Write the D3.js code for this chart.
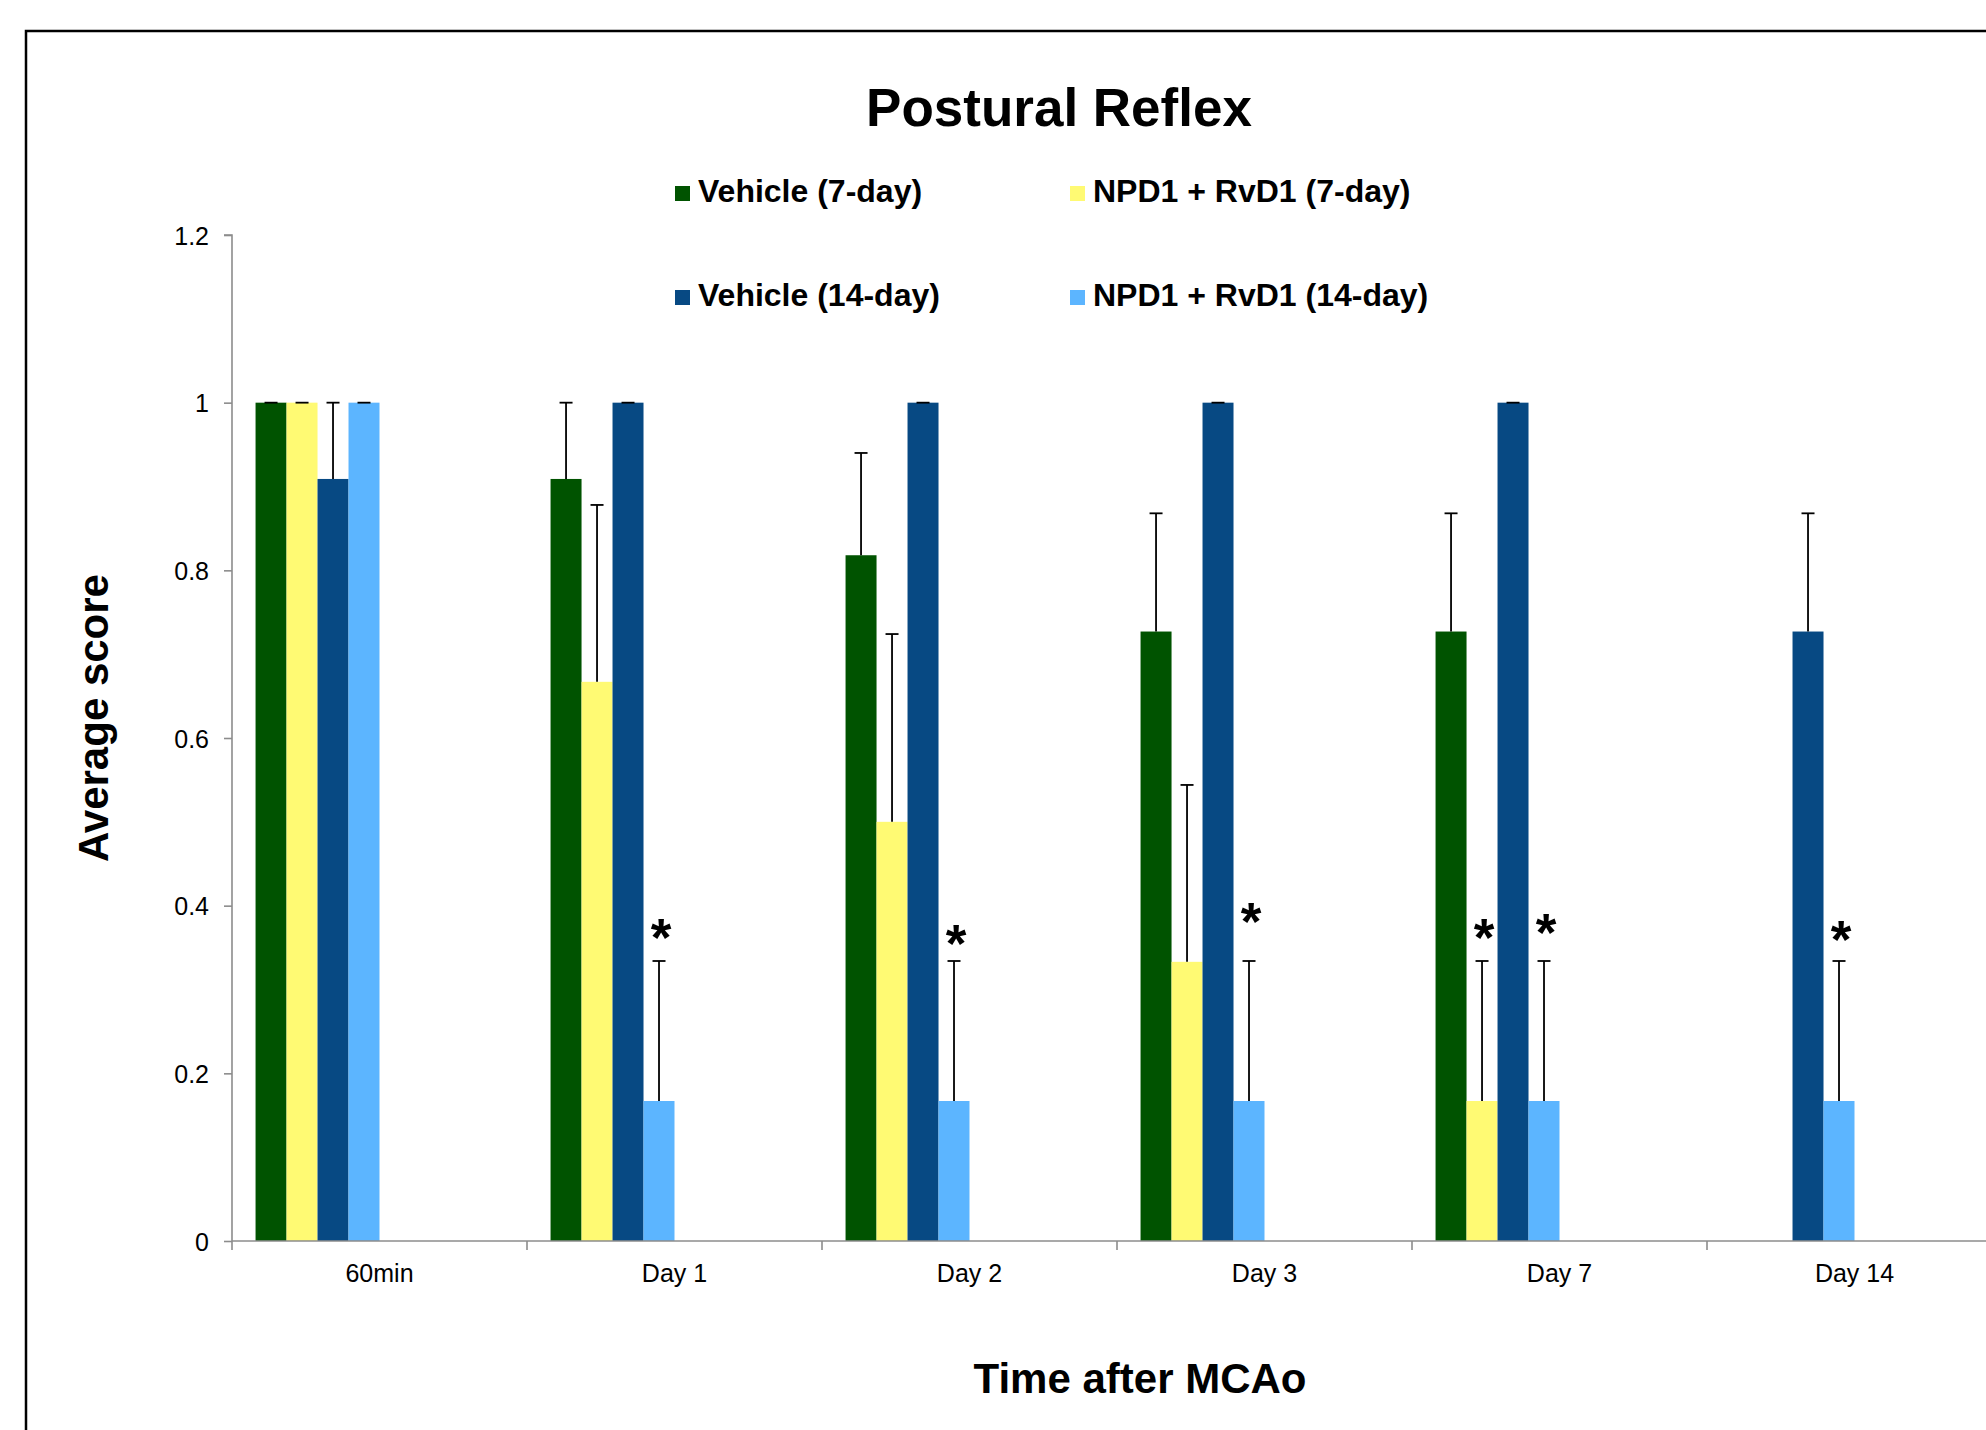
<!DOCTYPE html>
<html>
<head>
<meta charset="utf-8">
<script src="https://cdn.jsdelivr.net/npm/d3@7"></script>
<style>
  body { margin: 0; background: #fff; }
  svg { display: block; font-family: "Liberation Sans", Arial, sans-serif; }
</style>
</head>
<body>
<div id="chart"></div>
<script>
// categories and series
const categories = ['60min', 'Day 1', 'Day 2', 'Day 3', 'Day 7', 'Day 14'];
const seriesNames = ['Vehicle (7-day)', 'NPD1 + RvD1 (7-day)', 'Vehicle (14-day)', 'NPD1 + RvD1 (14-day)'];
const seriesColors = ['#005300', '#fffa73', '#074983', '#5cb5ff'];

// mean scores (null = not measured)
const vehicle7 = [1, 0.909, 0.818, 0.727, 0.727, null];
const npd7 = [1, 0.667, 0.5, 0.333, 0.167, null];
const vehicle14 = [0.909, 1, 1, 1, 1, 0.727];
const npd14 = [1, 0.167, 0.167, 0.167, 0.167, 0.167];

// upper error (SEM)
const vehicle7Err = [0, 0.091, 0.122, 0.141, 0.141, null];
const npd7Err = [0, 0.211, 0.224, 0.211, 0.167, null];
const vehicle14Err = [0.091, 0, 0, 0, 0, 0.141];
const npd14Err = [0, 0.167, 0.167, 0.167, 0.167, 0.167];

// significance marks: [category index, series index, level]
const stars = [[1, 3, 0.376], [2, 3, 0.368], [3, 3, 0.395], [4, 1, 0.376], [4, 3, 0.382], [5, 3, 0.373]];

const yTicks = [0, 0.2, 0.4, 0.6, 0.8, 1, 1.2];

const values = [vehicle7, npd7, vehicle14, npd14];
const errors = [vehicle7Err, npd7Err, vehicle14Err, npd14Err];

const W = 1986, H = 1430;
const plotLeft = 232, plotBottom = 1241, plotTop = 235;
const catW = 295;

const svg = d3.select('#chart').append('svg')
  .attr('width', W)
  .attr('height', H);

// outer frame
svg.append('rect')
  .attr('x', 26).attr('y', 31)
  .attr('width', W).attr('height', H)
  .attr('fill', 'none')
  .attr('stroke', '#000')
  .attr('stroke-width', 2.5);

let x = d3.scaleBand()
  .domain(categories)
  .range([plotLeft, plotLeft + catW * categories.length])
  .paddingInner(0).paddingOuter(0);

// 8 slots per category in the original workbook, only the first 4 are used
let slot = d3.scaleBand()
  .domain(d3.range(8))
  .range([0, x.bandwidth()])
  .paddingInner(0)
  .paddingOuter(0.76);

let y = d3.scaleLinear()
  .domain([0, 1.2])
  .range([plotBottom, plotTop]);

// bars
let rows = [];
values.forEach((vals, s) => {
  vals.forEach((v, i) => {
    if (v !== null) rows.push({ s: s, cat: categories[i], v: v, e: errors[s][i] });
  });
});

let bx = d => x(d.cat) + slot(d.s);

svg.append('g').selectAll('rect')
  .data(rows)
  .enter().append('rect')
  .attr('x', d => bx(d))
  .attr('y', d => y(d.v))
  .attr('width', slot.bandwidth())
  .attr('height', d => plotBottom - y(d.v))
  .attr('fill', d => seriesColors[d.s]);

// error bars (upper only)
let eg = svg.append('g').attr('stroke', '#000').attr('stroke-width', 1.8);
rows.forEach(d => {
  let cx = bx(d) + slot.bandwidth() / 2;
  eg.append('line')
    .attr('x1', cx).attr('x2', cx)
    .attr('y1', y(d.v)).attr('y2', y(d.v + d.e));
  eg.append('line')
    .attr('x1', cx - 6.5).attr('x2', cx + 6.5)
    .attr('y1', y(d.v + d.e)).attr('y2', y(d.v + d.e));
});

// y axis
let yAxis = svg.append('g')
  .attr('transform', `translate(${plotLeft},0)`)
  .call(d3.axisLeft(y).tickValues(yTicks).tickSize(8).tickPadding(15)
    .tickFormat(d => d === 0 ? '0' : String(+d.toFixed(1))));
yAxis.selectAll('path, line').attr('stroke', '#8c8c8c').attr('stroke-width', 1.6);
yAxis.select('.domain').attr('d', `M-8,${plotTop}H0V${plotBottom}`);
yAxis.selectAll('text')
  .attr('font-size', 25)
  .attr('font-family', '"Liberation Sans", Arial, sans-serif')
  .attr('fill', '#000')
  .attr('dy', '0.36em');

// x axis
let xg = svg.append('g');
xg.append('line')
  .attr('x1', plotLeft).attr('x2', W)
  .attr('y1', plotBottom).attr('y2', plotBottom)
  .attr('stroke', '#8c8c8c').attr('stroke-width', 1.6);
xg.selectAll('line.tick')
  .data(categories)
  .enter().append('line')
  .attr('class', 'tick')
  .attr('x1', d => x(d)).attr('x2', d => x(d))
  .attr('y1', plotBottom).attr('y2', plotBottom + 9)
  .attr('stroke', '#8c8c8c').attr('stroke-width', 1.6);
xg.selectAll('text')
  .data(categories)
  .enter().append('text')
  .attr('x', d => x(d) + x.bandwidth() / 2)
  .attr('y', 1282)
  .attr('text-anchor', 'middle')
  .attr('font-size', 25)
  .text(d => d);

// stars
svg.append('g').selectAll('text')
  .data(stars)
  .enter().append('text')
  .attr('x', d => x(categories[d[0]]) + slot(d[1]) + slot.bandwidth() / 2 + 2)
  .attr('y', d => y(d[2]) + 30)
  .attr('text-anchor', 'middle')
  .attr('font-size', 53)
  .attr('font-weight', 'bold')
  .text('*');

// title
svg.append('text')
  .attr('x', 1059).attr('y', 126)
  .attr('text-anchor', 'middle')
  .attr('font-size', 53)
  .attr('font-weight', 'bold')
  .text('Postural Reflex');

// legend
let legendPos = [[675, 202], [1070, 202], [675, 306], [1070, 306]];
let lg = svg.append('g').attr('font-size', 32).attr('font-weight', 'bold');
seriesNames.forEach((name, i) => {
  let p = legendPos[i];
  lg.append('rect')
    .attr('x', p[0]).attr('y', p[1] - 16)
    .attr('width', 15).attr('height', 15)
    .attr('fill', seriesColors[i]);
  lg.append('text')
    .attr('x', p[0] + 23).attr('y', p[1])
    .text(name);
});

// axis titles
svg.append('text')
  .attr('x', 1140).attr('y', 1393)
  .attr('text-anchor', 'middle')
  .attr('font-size', 42)
  .attr('font-weight', 'bold')
  .text('Time after MCAo');

svg.append('text')
  .attr('transform', 'translate(108,718) rotate(-90)')
  .attr('text-anchor', 'middle')
  .attr('font-size', 42)
  .attr('font-weight', 'bold')
  .text('Average score');
</script>
</body>
</html>
